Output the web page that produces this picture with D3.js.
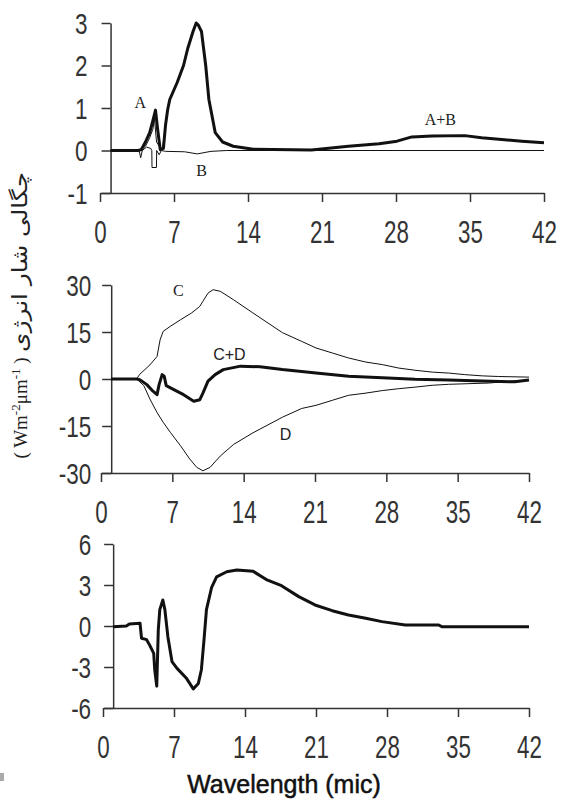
<!DOCTYPE html>
<html>
<head>
<meta charset="utf-8">
<script src="https://cdn.jsdelivr.net/npm/d3@7"></script>
<style>
  html, body { margin: 0; padding: 0; background: #fff; }
  svg { display: block; }
  .tick-label { font-family: "Liberation Sans", Arial, sans-serif; fill: #333; }
  .note-serif { font-family: "Liberation Serif", "Times New Roman", serif; fill: #222; }
  .note-sans { font-family: "Liberation Sans", Arial, sans-serif; fill: #222; }
</style>
</head>
<body>
<script>
// Shared x-axis ticks (wavelength, microns)
const xTicks = [0, 7, 14, 21, 28, 35, 42];

// Panel 1: A, B and A+B
const topYTicks = [-1, 0, 1, 2, 3];
const topABx = [1, 3.6, 3.9, 4.3, 4.7, 5.0, 5.25, 5.45, 5.7, 6.0, 6.2, 6.4, 6.6, 7.3, 7.9, 8.3, 8.8, 9.1, 9.3, 9.6, 10.0, 10.3, 10.9, 11.6, 12.6, 14.5, 20, 23.5, 26.4, 28.1, 29.5, 31.4, 34.5, 36.1, 38, 39.9, 42];
const topABy = [0, 0, 0.02, 0.2, 0.42, 0.7, 0.95, 0.5, 0.02, 0.05, 0.6, 0.96, 1.2, 1.6, 2.0, 2.4, 2.8, 3.0, 2.95, 2.8, 2.0, 1.2, 0.42, 0.2, 0.1, 0.03, 0.01, 0.1, 0.16, 0.22, 0.32, 0.34, 0.35, 0.3, 0.26, 0.22, 0.18];
const topAx = [1, 3.8, 4.3, 4.7, 5.0, 5.15, 5.35, 5.6, 5.9, 6.2, 6.4, 6.6, 7.3, 7.9, 8.3, 8.8, 9.1, 9.3, 9.6, 10.0, 10.3, 10.9, 11.6, 12.6, 14.5, 20, 23.5, 26.4, 28.1, 29.5, 31.4, 34.5, 36.1, 38, 39.9, 42];
const topAy = [0, 0, 0.1, 0.3, 0.5, 0.75, 0.2, 0.1, 0.02, 0.6, 0.96, 1.2, 1.6, 2.0, 2.4, 2.8, 3.0, 2.95, 2.8, 2.0, 1.2, 0.42, 0.2, 0.1, 0.03, 0.01, 0.1, 0.16, 0.22, 0.32, 0.34, 0.35, 0.3, 0.26, 0.22, 0.18];
const topBx = [1, 3.7, 3.85, 4.0, 4.4, 4.8, 4.9, 4.92, 5.34, 5.36, 5.6, 5.8, 6.2, 8.0, 9.2, 10.5, 12, 42];
const topBy = [0, 0, -0.17, 0, 0.08, 0.05, 0, -0.4, -0.4, 0, -0.1, 0, -0.02, -0.03, -0.08, -0.02, 0, 0];

// Panel 2: C, D and C+D
const midYTicks = [-30, -15, 0, 15, 30];
const midCx = [1, 3.5, 3.8, 4.8, 5.5, 5.8, 6.1, 6.8, 7.8, 8.9, 9.7, 10.0, 10.5, 11.0, 11.7, 13.0, 14.9, 17.8, 19.7, 21.1, 22.7, 24.3, 26.0, 27.6, 29.2, 30.8, 32.5, 34.1, 35.7, 37.4, 39.0, 42];
const midCy = [0, 0, 1.5, 4.5, 7.2, 12.5, 15.2, 16.8, 18.9, 21.1, 23.2, 24.8, 27.4, 28.5, 28, 25.3, 21.1, 14.8, 12.0, 9.9, 8.3, 6.7, 5.4, 4.6, 3.5, 2.8, 2.2, 1.9, 1.4, 1.0, 0.8, 0.6];
const midDx = [1, 3.5, 4.2, 4.8, 5.5, 6.1, 6.8, 7.8, 8.7, 9.4, 10.0, 10.7, 11.7, 13.0, 14.9, 17.8, 19.7, 21.1, 22.7, 24.3, 26.0, 27.6, 29.2, 30.8, 32.5, 34.1, 36.0, 38.0, 40.6, 42];
const midDy = [0, 0, -2.1, -6.4, -10.7, -13.8, -17, -21.3, -25.5, -28.2, -29.3, -28.2, -24.6, -20.9, -17.2, -12.2, -9.4, -8.4, -6.8, -5.2, -4.5, -3.7, -3.1, -2.6, -2.0, -1.7, -1.5, -1.3, -0.6, -0.3];
const midCDx = [1, 3.5, 3.8, 4.5, 5.1, 5.5, 5.7, 6.0, 6.2, 6.4, 7.1, 8.1, 9.1, 9.7, 10.0, 10.5, 11.2, 12.0, 13.7, 15.6, 17.8, 21.1, 24.3, 27.6, 30.8, 34.1, 37.4, 40.6, 42];
const midCDy = [0, 0, -0.2, -1.8, -3.9, -5, -1.8, 1.4, 0.9, -2.1, -3.3, -5, -7.1, -6.6, -4.5, -0.7, 1.4, 3.0, 4.1, 3.9, 3.0, 1.9, 0.9, 0.4, -0.1, -0.3, -0.6, -0.9, -0.3];

// Panel 3: net flux density
const lowYTicks = [-6, -3, 0, 3, 6];
const lowX = [1, 2.3, 2.6, 3.65, 3.8, 4.3, 4.6, 5.0, 5.1, 5.3, 5.45, 5.6, 5.9, 6.1, 6.4, 6.8, 7.3, 8.2, 8.9, 9.4, 9.7, 9.96, 10.2, 10.7, 11.2, 12.2, 13.2, 14.8, 16.1, 17.6, 19.3, 20.9, 22.6, 24.2, 25.9, 27.5, 29.8, 33.1, 33.4, 42];
const lowY = [-0.05, 0, 0.15, 0.2, -0.9, -1.0, -1.4, -2.0, -3.2, -4.4, -0.3, 1.2, 1.9, 1.2, -0.8, -2.6, -3.1, -3.8, -4.6, -4.2, -3.2, -1.0, 1.2, 2.8, 3.6, 3.97, 4.1, 4.0, 3.4, 2.95, 2.15, 1.54, 1.12, 0.8, 0.56, 0.32, 0.07, 0.07, -0.05, -0.05];

const W = 564, H = 803;
const svg = d3.select("body").append("svg").attr("width", W).attr("height", H);

const axisColor = "#333";

function panel(cfg) {
  const x = d3.scaleLinear().domain([0, 42]).range([cfg.x0, cfg.x1]);
  const y = d3.scaleLinear().domain(cfg.yDomain).range([cfg.yBottom, cfg.yTop]);
  const g = svg.append("g");

  // x axis: ticks point down, tall condensed labels below
  const xAxis = d3.axisBottom(x).tickValues(xTicks).tickSize(9).tickSizeOuter(0);
  const gx = g.append("g").attr("transform", `translate(0,${cfg.yBottom})`).call(xAxis).attr("font-family", null);
  gx.select(".domain").attr("stroke", axisColor).attr("stroke-width", 1.5);
  gx.selectAll(".tick line").attr("stroke", axisColor).attr("stroke-width", 1.5);
  gx.selectAll(".tick text").attr("class", "tick-label").attr("font-size", 26).attr("fill", "#333")
    .attr("x", 0).attr("y", 0).attr("dy", null)
    .attr("transform", `translate(0,${cfg.xLabelBase - cfg.yBottom}) scale(0.86,1.22)`);

  // y axis sits at the first sample (1 micron)
  const yAxis = d3.axisLeft(y).tickValues(cfg.yTicks).tickSize(9).tickSizeOuter(0)
    .tickFormat(d => d < 0 ? "-" + Math.abs(d) : String(d));
  const gy = g.append("g").attr("transform", `translate(${x(1)},0)`).call(yAxis).attr("font-family", null);
  gy.select(".domain").attr("stroke", axisColor).attr("stroke-width", 1.5);
  gy.selectAll(".tick line").attr("stroke", axisColor).attr("stroke-width", 1.5);
  gy.selectAll(".tick text").attr("class", "tick-label").attr("font-size", 25).attr("fill", "#333")
    .attr("x", 0).attr("y", 0).attr("dy", "0.36em")
    .attr("transform", `translate(${-cfg.yLabelGap},0) scale(0.9,1.15)`);

  const line = d3.line().x(d => x(d[0])).y(d => y(d[1]));
  cfg.series.forEach(s => {
    g.append("path")
      .datum(d3.zip(s.xs, s.ys))
      .attr("fill", "none")
      .attr("stroke", "#111")
      .attr("stroke-width", s.w)
      .attr("stroke-linejoin", "round")
      .attr("d", line);
  });

  (cfg.notes || []).forEach(n => {
    g.append("text")
      .attr("class", n.serif ? "note-serif" : "note-sans")
      .attr("x", x(n.at[0])).attr("y", y(n.at[1]))
      .attr("text-anchor", "middle")
      .attr("font-size", n.size || 16)
      .text(n.text);
  });
}

panel({
  x0: 100, x1: 544, yTop: 23, yBottom: 193, yDomain: [-1, 3], yTicks: topYTicks, xLabelBase: 243, yLabelGap: 23,
  series: [
    { xs: topBx, ys: topBy, w: 1 },
    { xs: topAx, ys: topAy, w: 1 },
    { xs: topABx, ys: topABy, w: 3 }
  ],
  notes: [
    { text: "A", at: [3.8, 1.0], serif: true },
    { text: "B", at: [9.6, -0.6], serif: true },
    { text: "A+B", at: [32.2, 0.6], serif: true }
  ]
});

panel({
  x0: 101, x1: 529, yTop: 285, yBottom: 473, yDomain: [-30, 30], yTicks: midYTicks, xLabelBase: 523, yLabelGap: 20,
  series: [
    { xs: midCx, ys: midCy, w: 1 },
    { xs: midDx, ys: midDy, w: 1 },
    { xs: midCDx, ys: midCDy, w: 3 }
  ],
  notes: [
    { text: "C", at: [7.6, 26.5], serif: true },
    { text: "C+D", at: [12.6, 6.2], serif: false },
    { text: "D", at: [18.1, -19.5], serif: false }
  ]
});

panel({
  x0: 103, x1: 529, yTop: 544, yBottom: 708, yDomain: [-6, 6], yTicks: lowYTicks, xLabelBase: 758, yLabelGap: 22,
  series: [
    { xs: lowX, ys: lowY, w: 3 }
  ]
});

// Shared x-axis title
svg.append("text")
  .attr("x", 284).attr("y", 793)
  .attr("text-anchor", "middle")
  .attr("font-family", "'Liberation Sans', Arial, sans-serif")
  .attr("font-size", 25)
  .attr("fill", "#111")
  .attr("stroke", "#111")
  .attr("stroke-width", 0.5)
  .text("Wavelength (mic)");

// Shared y-axis title (Persian caption plus units), rotated
const yTitle = svg.append("g").attr("transform", "translate(27,0)");
yTitle.append("text")
  .attr("transform", "translate(0,262) rotate(-90)")
  .attr("text-anchor", "middle")
  .attr("direction", "rtl")
  .attr("font-family", "'DejaVu Sans', 'Noto Sans', sans-serif")
  .attr("font-size", 21)
  .attr("textLength", 180)
  .attr("lengthAdjust", "spacingAndGlyphs")
  .attr("fill", "#222")
  .text("چگالی شار انرژی");
const units = yTitle.append("text")
  .attr("transform", "translate(0,408) rotate(-90)")
  .attr("text-anchor", "middle")
  .attr("font-family", "'Liberation Serif', 'Times New Roman', serif")
  .attr("font-size", 19)
  .attr("fill", "#222");
units.append("tspan").text("( Wm");
units.append("tspan").attr("dy", -7).attr("font-size", 13).text("-2");
units.append("tspan").attr("dy", 7).text("μm");
units.append("tspan").attr("dy", -7).attr("font-size", 13).text("-1");
units.append("tspan").attr("dy", 7).text(" )");

// small grey mark at the lower-left edge
svg.append("rect").attr("x", 0).attr("y", 773).attr("width", 4).attr("height", 8).attr("fill", "#aaa");
</script>
</body>
</html>
